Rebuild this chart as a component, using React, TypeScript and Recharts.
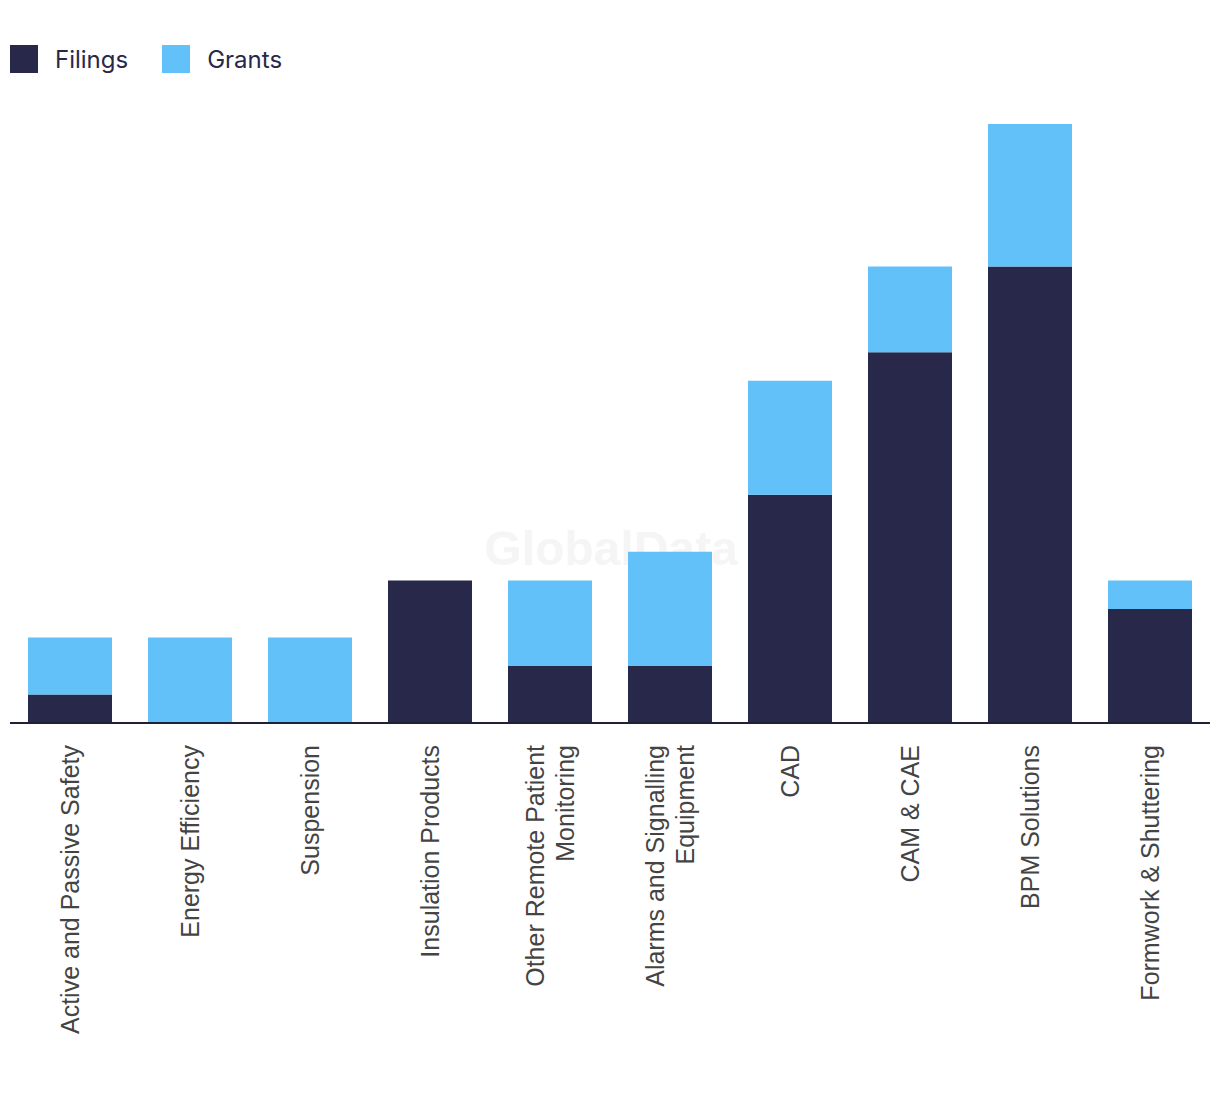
import { BarChart, Bar, XAxis, YAxis, Customized } from 'recharts';

const categories = [
  'Active and Passive Safety',
  'Energy Efficiency',
  'Suspension',
  'Insulation Products',
  'Other Remote Patient Monitoring',
  'Alarms and Signalling Equipment',
  'CAD',
  'CAM & CAE',
  'BPM Solutions',
  'Formwork & Shuttering',
];
const filings = [1, 0, 0, 5, 2, 2, 8, 13, 16, 4];
const grants = [2, 3, 3, 0, 3, 4, 4, 3, 5, 1];

const NAVY = '#27284a';
const BLUE = '#62c1f9';

const data = categories.map((name, i) => ({ name, filings: filings[i], grants: grants[i] }));

// long labels break before the last word, like the source
function wrap(label: string, max = 26): string[] {
  if (label.length <= max) return [label];
  const words = label.split(' ');
  return [words.slice(0, -1).join(' '), words[words.length - 1]];
}

function CategoryTick(props: any) {
  const { x, y, payload } = props;
  const lines = wrap(payload.value);
  const lh = 30;
  const start = -((lines.length - 1) * lh) / 2;
  return (
    <g transform={`translate(${x},${y + 22})`}>
      <text
        transform="rotate(-90)"
        textAnchor="end"
        fill="#444"
        fontSize={25}
        fontFamily="'Liberation Sans', Arial, sans-serif"
      >
        {lines.map((ln, i) => (
          <tspan key={i} x={0} y={start + i * lh} dy="0.35em">
            {ln}
          </tspan>
        ))}
      </text>
    </g>
  );
}

function Watermark() {
  return (
    <text
      x={611}
      y={565}
      textAnchor="middle"
      fontSize={48}
      fontWeight="bold"
      fontFamily="'Liberation Sans', Arial, sans-serif"
      fill="#e6e6e6"
      fillOpacity={0.4}
    >
      GlobalData
    </text>
  );
}

function LegendItem({ color, label }: { color: string; label: string }) {
  return (
    <div style={{ display: 'flex', alignItems: 'center', marginRight: 34 }}>
      <div style={{ width: 28, height: 28, background: color, marginRight: 17 }} />
      <span style={{ fontSize: 24, color: NAVY, fontFamily: 'Inter, sans-serif' }}>{label}</span>
    </div>
  );
}

export default function App() {
  return (
    <div style={{ position: 'absolute', left: 0, top: 0, width: 1220, height: 1094, background: '#fff' }}>
      <div style={{ position: 'absolute', left: 10, top: 45, display: 'flex', height: 28 }}>
        <LegendItem color={NAVY} label="Filings" />
        <LegendItem color={BLUE} label="Grants" />
      </div>
      <BarChart
        width={1220}
        height={1094}
        data={data}
        margin={{ top: 124, right: 10, left: 10, bottom: 71 }}
        barSize={84}
      >
        <XAxis
          dataKey="name"
          interval={0}
          height={300}
          tickLine={false}
          tickSize={0}
          tickMargin={0}
          axisLine={{ stroke: '#1f1f36', strokeWidth: 2 }}
          tick={<CategoryTick />}
        />
        <YAxis hide domain={[0, 21]} />
        <Bar dataKey="filings" stackId="a" fill={NAVY} isAnimationActive={false} />
        <Bar dataKey="grants" stackId="a" fill={BLUE} isAnimationActive={false} />
        <Customized component={Watermark} />
      </BarChart>
    </div>
  );
}
